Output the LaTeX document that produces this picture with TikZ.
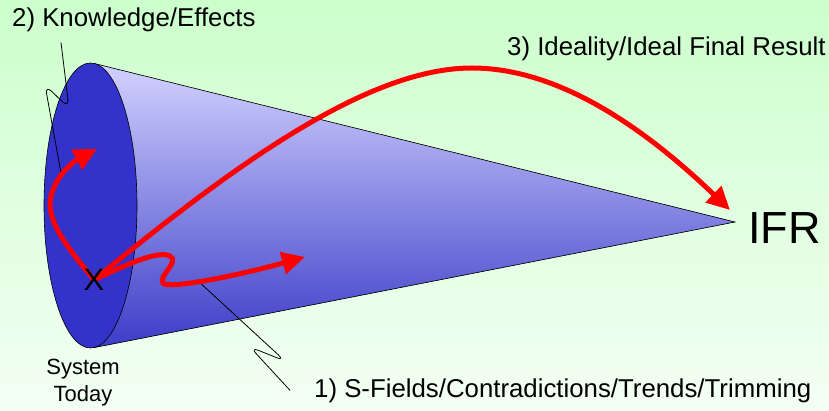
\documentclass[tikz,border=0pt]{standalone}
\usepackage{fontspec}
\setmainfont{Liberation Sans}
\usetikzlibrary{arrows.meta}
\definecolor{bgtop}{RGB}{204,255,204}
\definecolor{bgbot}{RGB}{244,255,244}
\definecolor{conetop}{RGB}{210,210,255}
\definecolor{conebot}{RGB}{60,60,200}
\definecolor{faceblue}{RGB}{51,51,204}
\begin{document}
\begin{tikzpicture}[
  x=1pt,y=-1pt,
  label/.style={font=\fontsize{25.8}{30}\selectfont, inner sep=0pt, anchor=base west},
  red arrow/.style={red, line width=5pt, -{Triangle[length=23pt,width=22pt]}},
  callout/.style={draw, line width=0.8pt, rounded corners=9pt}
]
\useasboundingbox (0,0) rectangle (829,411);
\fill[top color=bgtop, bottom color=bgbot] (0,0) rectangle (829,411);

% cone and system face
\coordinate (apex) at (735,222);
\coordinate (rim top) at (94.2,63.5);
\coordinate (rim bottom) at (93.5,347.7);
\fill[top color=conetop, bottom color=conebot] (rim top) -- (apex) -- (rim bottom) -- cycle;
\draw[line width=0.6pt] (rim top) -- (apex) -- (rim bottom);
\draw[fill=faceblue, line width=0.6pt] (90.5,205.5) ellipse [x radius=46.5pt, y radius=142.5pt];

% labels
\node[label] (knowledge) at (12,27) {2) Knowledge/Effects};
\node[label] (ideality) at (507,56) {3) Ideality/Ideal Final Result};
\node[label] (sfields) at (314,397) {1) S-Fields/Contradictions/Trends/Trimming};
\node[font=\fontsize{22}{27}\selectfont, align=center, inner sep=0pt, anchor=north] (today) at (83,359) {System\\Today};
\node[font=\fontsize{45}{54}\selectfont, inner sep=0pt, anchor=base west] (ifr) at (748,244) {IFR};

% callouts
\coordinate (knowledge end) at (61,173);
\coordinate (fields start) at (197,280);
\draw[callout] ([shift={(49,10)}]knowledge.south west) -- (69,108) -- (45,85) -- (knowledge end);
\draw[callout] (fields start) -- (285,361) -- (250,347) -- ([xshift=-24pt]sfields.west);

% paths from today's system
\coordinate (start) at (94,280);
\coordinate (effect tip) at (97,149);
\coordinate (field tip) at (305,257);
\coordinate (ifr tip) at (730,210);
\draw[red arrow] (start) .. controls (70,250) and (45,222) .. (51,196) .. controls (57,172) and (78,159) .. (effect tip);
\draw[red arrow] (start) .. controls (125,265) and (158,250) .. (170,256) .. controls (180,262) and (158,276) .. (163,283) .. controls (167,290) and (240,275) .. (field tip);
\draw[red arrow] (start) .. controls (240,160) and (370,68) .. (472,68) .. controls (570,68) and (662,145) .. (ifr tip);
\node[font=\fontsize{31}{36}\selectfont, inner sep=0pt] (x) at (start) {X};
\end{tikzpicture}
\end{document}
